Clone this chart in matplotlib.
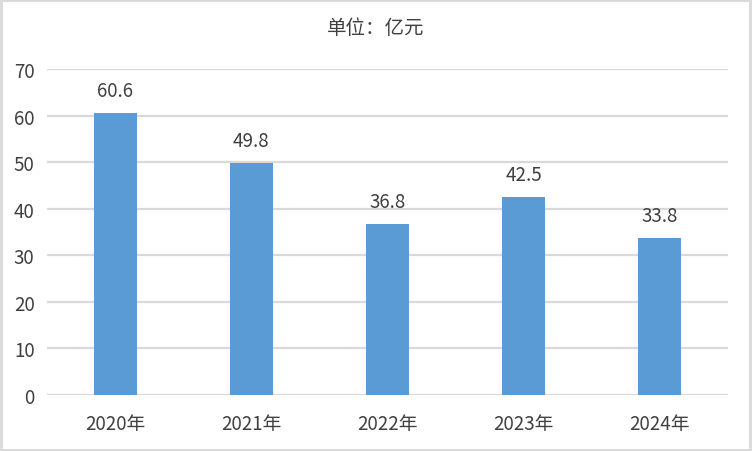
import matplotlib
matplotlib.use('Agg')
import matplotlib.pyplot as plt
from matplotlib.patches import Rectangle

plt.rcParams['font.family'] = ['Noto Sans CJK SC', 'DejaVu Sans']

# --- Dados ---
anos = ['2020年', '2021年', '2022年', '2023年', '2024年']
valores = [60.6, 49.8, 36.8, 42.5, 33.8]
yticks = [0, 10, 20, 30, 40, 50, 60, 70]
titulo = '单位：亿元'

cor_barra = '#5B9BD5'
cor_texto = '#404040'
cor_grade = '#D9D9D9'

fig = plt.figure(figsize=(7.52, 4.52), dpi=100)
ax = fig.add_axes([47 / 752, 56 / 452, 681 / 752, 326 / 452])

x = range(len(anos))
ax.bar(x, valores, width=0.316, color=cor_barra, zorder=3)

for i, v in enumerate(valores):
    ax.annotate(f'{v}', (i, v), xytext=(0, 16), textcoords='offset points',
                ha='center', va='center', fontsize=13.5, color=cor_texto)

ax.set_xlim(-0.5, len(anos) - 0.5)
ax.set_ylim(0, 70)
ax.set_yticks(yticks)
ax.set_xticks(list(x))
ax.set_xticklabels(anos)
ax.yaxis.grid(True, color=cor_grade, linewidth=1.6, zorder=0)
ax.tick_params(axis='both', length=0, labelsize=13.5, labelcolor=cor_texto)
ax.tick_params(axis='x', pad=13)
ax.tick_params(axis='y', pad=9)
for s in ax.spines.values():
    s.set_visible(False)

fig.text(0.5, 1 - 28 / 452, titulo, ha='center', va='center',
         fontsize=14, color=cor_texto)

# borda da figura
fig.patches.append(Rectangle((0.001, 0.002), 0.997, 0.995, transform=fig.transFigure,
                             fill=False, edgecolor=cor_grade, linewidth=2))

fig.savefig('out.png', dpi=100)
